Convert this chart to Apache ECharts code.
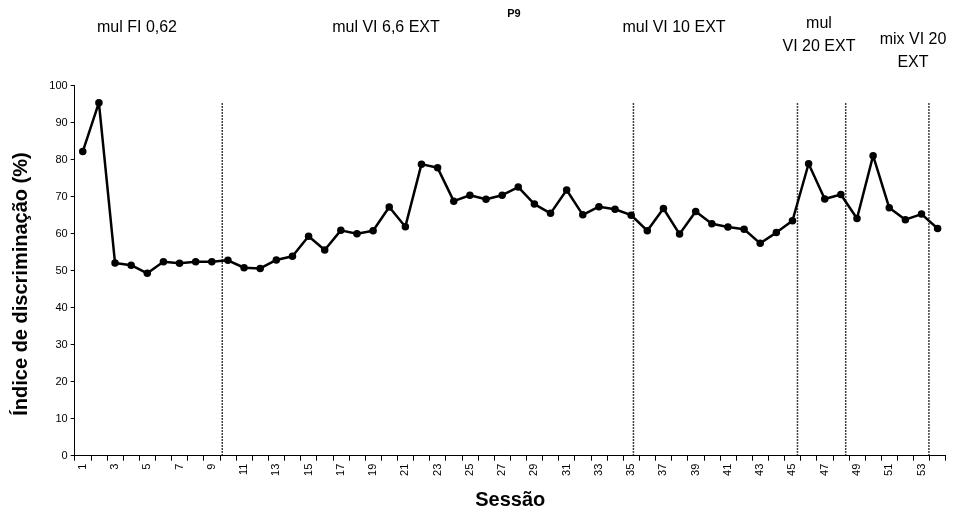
<!DOCTYPE html>
<html>
<head>
<meta charset="utf-8">
<script src="https://cdn.jsdelivr.net/npm/echarts@6/dist/echarts.min.js"></script>
<style>html,body{margin:0;padding:0;background:#fff;}#c{width:964px;height:515px;}</style>
</head>
<body>
<div id="c"></div>
<script>
var sessions = [];
for (var i = 1; i <= 54; i++) sessions.push(String(i));
var values = [82.2, 95.4, 52.1, 51.5, 49.3, 52.4, 52.0, 52.4, 52.4, 52.8,
  50.8, 50.6, 52.9, 53.9, 59.3, 55.6, 60.9, 60.0, 60.8, 67.2,
  61.9, 78.8, 77.8, 68.8, 70.4, 69.3, 70.4, 72.6, 68.0, 65.5,
  71.8, 65.1, 67.3, 66.6, 65.0, 60.8, 66.8, 59.9, 66.0, 62.7,
  61.8, 61.2, 57.4, 60.3, 63.5, 78.9, 69.4, 70.6, 64.1, 81.1,
  67.0, 63.8, 65.3, 61.4];
var phaseLines = [9.65, 35.14, 45.31, 48.3, 53.46];
var phaseLineTop = 95.5;
var yTicks = [0, 10, 20, 30, 40, 50, 60, 70, 80, 90, 100];
var phaseLabels = [
  {text: 'mul FI 0,62', x: 137, y: 28},
  {text: 'mul VI 6,6 EXT', x: 386, y: 28},
  {text: 'mul VI 10 EXT', x: 674, y: 28},
  {text: 'mul\nVI 20 EXT', x: 819, y: 35},
  {text: 'mix VI 20\nEXT', x: 913, y: 51}
];

var chart = echarts.init(document.getElementById('c'));
var font = 'Liberation Sans, Arial, sans-serif';

var series = [{
  type: 'line',
  xAxisIndex: 0,
  data: values,
  symbol: 'circle',
  symbolSize: 7.5,
  itemStyle: {color: '#000'},
  lineStyle: {color: '#000', width: 2.5},
  z: 5,
  animation: false
}];
phaseLines.forEach(function (p) {
  series.push({
    type: 'line',
    xAxisIndex: 1,
    data: [[p, 0], [p, phaseLineTop]],
    symbol: 'none',
    lineStyle: {color: '#000', width: 1.5, type: [1.5, 1.5]},
    z: 3,
    animation: false
  });
});

var graphics = phaseLabels.map(function (l) {
  return {
    type: 'text', x: l.x, y: l.y,
    style: {text: l.text, font: '16px ' + font, fill: '#000', align: 'center', verticalAlign: 'middle', lineHeight: 23}
  };
});
graphics.push({
  type: 'text', x: 514, y: 14,
  style: {text: 'P9', font: 'bold 11px ' + font, fill: '#000', align: 'center', verticalAlign: 'middle'}
});
graphics.push({
  type: 'text', x: 21, y: 284, rotation: Math.PI / 2,
  style: {text: 'Índice de discriminação (%)', font: 'bold 20px ' + font, fill: '#000', align: 'center', verticalAlign: 'middle'}
});

chart.setOption({
  animation: false,
  grid: {left: 74.7, right: 18.3, top: 85.7, bottom: 59.3, containLabel: false, outerBoundsMode: 'none'},
  xAxis: [{
    type: 'category',
    data: sessions,
    boundaryGap: true,
    name: 'Sessão',
    nameLocation: 'middle',
    nameGap: 35,
    nameTextStyle: {fontFamily: font, fontSize: 20, fontWeight: 'bold', color: '#000'},
    axisLine: {lineStyle: {color: '#000', width: 1}},
    axisTick: {show: true, interval: 0, length: 5, lineStyle: {color: '#000'}},
    axisLabel: {interval: 1, rotate: 90, fontFamily: font, fontSize: 11, color: '#000', margin: 8},
    splitLine: {show: false}
  }, {
    type: 'value',
    min: 0.5, max: 54.5,
    show: false
  }],
  yAxis: {
    type: 'value',
    min: yTicks[0], max: yTicks[yTicks.length - 1], interval: 10,
    axisLine: {show: true, lineStyle: {color: '#000', width: 1}},
    axisTick: {show: true, length: 4, lineStyle: {color: '#000'}},
    axisLabel: {fontFamily: font, fontSize: 11, color: '#000', margin: 7},
    splitLine: {show: false}
  },
  series: series,
  graphic: graphics
});
</script>
</body>
</html>
